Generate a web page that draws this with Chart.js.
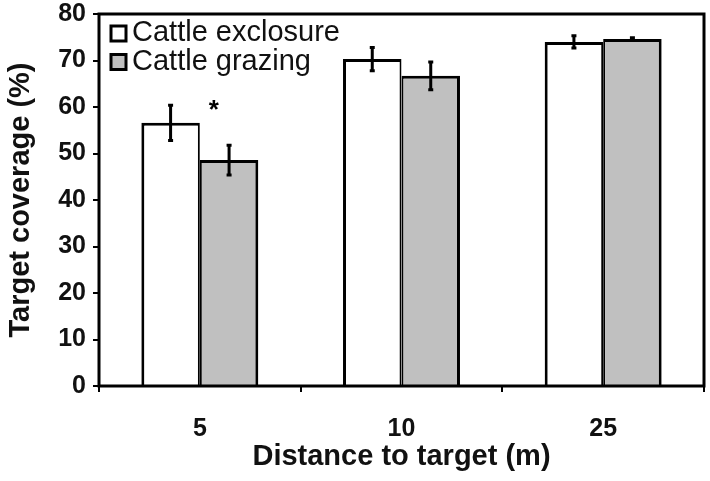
<!DOCTYPE html>
<html>
<head>
<meta charset="utf-8">
<script src="https://cdn.jsdelivr.net/npm/chart.js@4"></script>
<style>
  html, body { margin: 0; padding: 0; background: #fff; }
  #wrap { width: 710px; height: 481px; position: relative; }
</style>
</head>
<body>
<div id="wrap"><canvas id="chart"></canvas></div>
<script>
// values
const categories = ['5', '10', '25'];
const seriesNames = ['Cattle exclosure', 'Cattle grazing'];
const exclosure = [56.6, 70.3, 74.0];
const exclosureErr = [3.8, 2.5, 1.3];
const grazing = [48.6, 66.7, 74.6];
const grazingErr = [3.2, 3.0, 0.3];
const yTicks = [0, 10, 20, 30, 40, 50, 60, 70, 80];

const errors = [exclosureErr, grazingErr];

// black box round the plot
const framePlugin = {
    id: 'frame',
    afterDatasetsDraw(chart) {
        const { ctx, chartArea: a } = chart;
        ctx.save();
        ctx.strokeStyle = '#000';
        ctx.lineWidth = 3;
        ctx.strokeRect(a.left, a.top, a.right - a.left, a.bottom - a.top);
        ctx.restore();
    }
};

const errorBarPlugin = {
    id: 'errorBars',
    afterDatasetsDraw(chart) {
        const { ctx } = chart;
        const y = chart.scales.y;
        ctx.save();
        ctx.strokeStyle = '#000';
        ctx.lineWidth = 3;
        chart.data.datasets.forEach((ds, i) => {
            const meta = chart.getDatasetMeta(i);
            meta.data.forEach((bar, j) => {
                const v = ds.data[j], e = errors[i][j];
                const yTop = y.getPixelForValue(v + e);
                const yBot = y.getPixelForValue(v - e);
                ctx.beginPath();
                ctx.moveTo(bar.x, yTop);
                ctx.lineTo(bar.x, yBot);
                ctx.moveTo(bar.x - 2.5, yTop);
                ctx.lineTo(bar.x + 2.5, yTop);
                ctx.moveTo(bar.x - 2.5, yBot);
                ctx.lineTo(bar.x + 2.5, yBot);
                ctx.stroke();
            });
        });
        // significance mark over the 5 m pair
        const g = chart.getDatasetMeta(1).data[0];
        ctx.fillStyle = '#000';
        ctx.font = 'bold 26px "Liberation Sans", Arial, sans-serif';
        ctx.textAlign = 'center';
        ctx.textBaseline = 'middle';
        ctx.fillText('*', g.x - g.width * 0.26, y.getPixelForValue(59.2));
        ctx.restore();
    }
};

const legendPlugin = {
    id: 'boxLegend',
    afterDraw(chart) {
        const { ctx, chartArea: a } = chart;
        ctx.save();
        ctx.font = '29px "Liberation Sans", Arial, sans-serif';
        ctx.textAlign = 'left';
        ctx.textBaseline = 'alphabetic';
        chart.data.datasets.forEach((ds, i) => {
            const top = a.top + 12 + i * 28.5;
            ctx.fillStyle = ds.backgroundColor;
            ctx.fillRect(a.left + 12, top, 15, 15);
            ctx.strokeStyle = '#000';
            ctx.lineWidth = 3;
            ctx.strokeRect(a.left + 12, top, 15, 15);
            ctx.fillStyle = '#111';
            ctx.fillText(ds.label, a.left + 33, top + 15);
        });
        ctx.restore();
    }
};

new Chart(document.getElementById('chart'), {
    type: 'bar',
    data: {
        labels: categories,
        datasets: [
            {
                label: seriesNames[0],
                data: exclosure,
                backgroundColor: '#ffffff',
                borderColor: '#000',
                borderWidth: { top: 3, left: 3, right: 2, bottom: 0 },
                borderSkipped: false,
                categoryPercentage: 0.58,
                barPercentage: 1.0
            },
            {
                label: seriesNames[1],
                data: grazing,
                backgroundColor: '#c0c0c0',
                borderColor: '#000',
                borderWidth: { top: 3, left: 2, right: 3, bottom: 0 },
                borderSkipped: false,
                categoryPercentage: 0.58,
                barPercentage: 1.0
            }
        ]
    },
    options: {
        responsive: true,
        maintainAspectRatio: false,
        animation: false,
        layout: { padding: { top: 14, right: 6, left: 0, bottom: 0 } },
        plugins: {
            legend: { display: false },
            tooltip: { enabled: false }
        },
        scales: {
            x: {
                afterFit: (s) => { s.height = 95; s.paddingLeft = 0; s.paddingRight = 0; },
                grid: { display: true, drawOnChartArea: false, drawTicks: true, tickLength: 6, color: '#000', lineWidth: 2, offset: true },
                border: { display: false },
                ticks: {
                    color: '#111',
                    padding: 22,
                    font: { family: '"Liberation Sans", Arial, sans-serif', size: 25, weight: 'bold' }
                },
                title: {
                    display: true,
                    text: 'Distance to target (m)',
                    color: '#111',
                    padding: { top: 0, bottom: 7 },
                    font: { family: '"Liberation Sans", Arial, sans-serif', size: 29, weight: 'bold' }
                }
            },
            y: {
                min: 0,
                max: 80,
                afterFit: (s) => { s.width = 99; s.paddingTop = 0; s.paddingBottom = 0; },
                afterBuildTicks: (s) => { s.ticks = yTicks.map(v => ({ value: v })); },
                grid: { display: true, drawOnChartArea: false, drawTicks: true, tickLength: 6, color: '#000', lineWidth: 2 },
                border: { display: false },
                ticks: {
                    color: '#111',
                    padding: 7,
                    font: { family: '"Liberation Sans", Arial, sans-serif', size: 25, weight: 'bold' }
                },
                title: {
                    display: true,
                    text: 'Target coverage (%)',
                    color: '#111',
                    padding: { top: 4, bottom: 0 },
                    font: { family: '"Liberation Sans", Arial, sans-serif', size: 29, weight: 'bold' }
                }
            }
        }
    },
    plugins: [framePlugin, errorBarPlugin, legendPlugin]
});
</script>
</body>
</html>
